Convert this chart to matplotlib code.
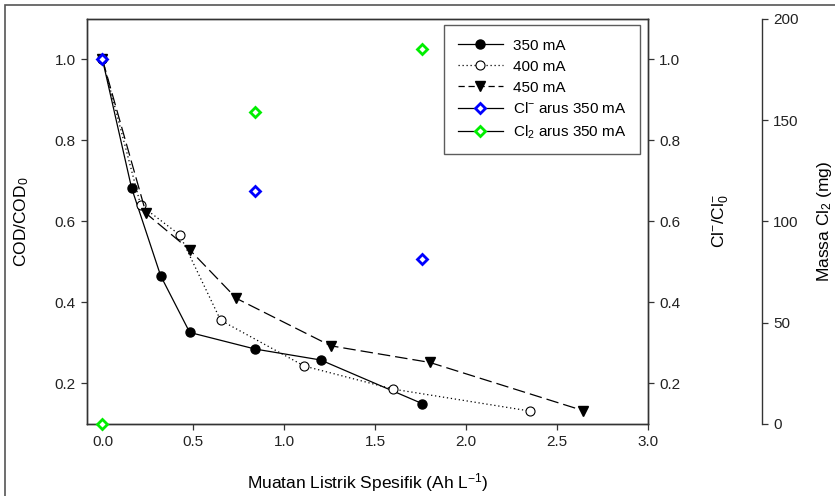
import matplotlib
matplotlib.use('Agg')
import matplotlib.pyplot as plt
from matplotlib.lines import Line2D
from matplotlib.patches import Rectangle

plt.rcParams['font.family'] = ['Liberation Sans', 'DejaVu Sans']
plt.rcParams['mathtext.default'] = 'regular'

# COD removal at three currents
x_350 = [0, 0.16, 0.32, 0.48, 0.84, 1.20, 1.76]
cod_350 = [1.0, 0.683, 0.466, 0.326, 0.285, 0.258, 0.150]
x_400 = [0, 0.21, 0.425, 0.65, 1.11, 1.60, 2.35]
cod_400 = [1.0, 0.640, 0.567, 0.356, 0.243, 0.186, 0.132]
x_450 = [0, 0.24, 0.48, 0.737, 1.256, 1.80, 2.644]
cod_450 = [1.0, 0.620, 0.530, 0.410, 0.293, 0.252, 0.133]

# chloride and chlorine at 350 mA
x_cl = [0, 0.84, 1.76]
cl_ratio = [1.0, 0.676, 0.508]
cl2_mass = [0, 154, 185]

fig = plt.figure(figsize=(8.35, 4.96), dpi=100)
ax = fig.add_axes([0.1042, 0.1452, 0.6718, 0.8165])
ax2 = ax.twinx()
ax3 = ax.twinx()

ax.plot(x_350, cod_350, color='black', lw=0.9, marker='o', ms=6.5,
        mfc='black', mec='black', zorder=3)
ax.plot(x_400, cod_400, color='black', lw=0.9, dashes=(1, 2.2), marker='o', ms=6.5,
        mfc='white', mec='black', mew=0.8, zorder=3)
ax.plot(x_450, cod_450, color='black', lw=0.9, dashes=(10, 4), marker='v', ms=7.5,
        mfc='black', mec='black', zorder=3)

ax2.plot(x_cl, cl_ratio, ls='none', marker='D', ms=5.5, mfc='white',
         mec='blue', mew=2, zorder=4)
ax3.plot(x_cl, cl2_mass, ls='none', marker='D', ms=5, mfc='white',
         mec='#00ee00', mew=2, zorder=4, clip_on=False)

ax.set_xlim(-0.085, 3.0)
ax.set_ylim(0.1, 1.1)
ax2.set_ylim(0.1, 1.1)
ax3.set_ylim(0, 200)

ax.set_xticks([0, 0.5, 1.0, 1.5, 2.0, 2.5, 3.0])
ax.set_yticks([0.2, 0.4, 0.6, 0.8, 1.0])
ax2.set_yticks([0.2, 0.4, 0.6, 0.8, 1.0])
ax3.set_yticks([0, 50, 100, 150, 200])
ax.xaxis.set_major_formatter(matplotlib.ticker.FormatStrFormatter('%.1f'))
ax.yaxis.set_major_formatter(matplotlib.ticker.FormatStrFormatter('%.1f'))
ax2.yaxis.set_major_formatter(matplotlib.ticker.FormatStrFormatter('%.1f'))

for a in (ax, ax2, ax3):
    a.tick_params(direction='out', length=4, width=0.9, labelsize=11,
                  color='#333333', labelcolor='#222222', pad=4)
    for s in a.spines.values():
        s.set_color('#333333')
        s.set_linewidth(1.0)

ax3.spines['right'].set_position(('axes', 1.203))
for side in ('top', 'bottom', 'left'):
    ax3.spines[side].set_visible(False)

ax.set_xlabel('Muatan Listrik Spesifik (Ah L$^{-1}$)', fontsize=12.5, labelpad=16)
ax.set_ylabel('COD/COD$_0$', fontsize=12.5, labelpad=17)
ax2.set_ylabel('Cl$^{-}$/Cl$^{-}_0$', fontsize=12.5, labelpad=22)
ax3.set_ylabel('Massa Cl$_2$ (mg)', fontsize=12.5, labelpad=12)

handles = [
    Line2D([], [], color='black', lw=0.9, marker='o', ms=6.5, mfc='black'),
    Line2D([], [], color='black', lw=0.9, dashes=(1, 2.2), marker='o', ms=6.5,
           mfc='white', mew=0.8),
    Line2D([], [], color='black', lw=0.9, dashes=(5, 3), marker='v', ms=7.5, mfc='black'),
    Line2D([], [], color='black', lw=0.9, marker='D', ms=5.5, mfc='white',
           mec='blue', mew=2),
    Line2D([], [], color='black', lw=0.9, marker='D', ms=5, mfc='white',
           mec='#00ee00', mew=2),
]
labels = ['350 mA', '400 mA', '450 mA', 'Cl$^{-}$ arus 350 mA', 'Cl$_2$ arus 350 mA']
leg = ax3.legend(handles, labels, loc='upper right', bbox_to_anchor=(0.986, 0.985),
                 borderaxespad=0, fontsize=11, frameon=True, fancybox=False,
                 handlelength=3.0, handletextpad=0.6, labelspacing=0.45,
                 borderpad=0.9)
leg.get_frame().set_edgecolor('#333333')
leg.get_frame().set_linewidth(1.0)

fig.patches.append(Rectangle((5 / 835, -0.1), 1.2, 491 / 496 + 0.1,
                             transform=fig.transFigure, fill=False,
                             edgecolor='#555555', lw=1.2))

fig.savefig('out.png', dpi=100)
